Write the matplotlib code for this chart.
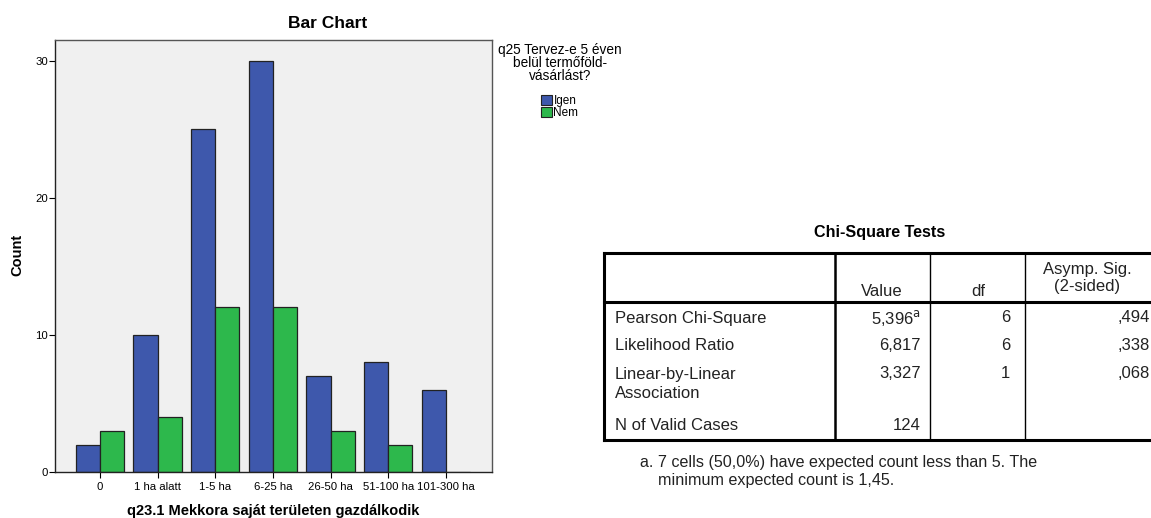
import matplotlib.pyplot as plt
import numpy as np

plt.rcParams['font.family'] = ['Liberation Sans', 'DejaVu Sans']

categories = ["0", "1 ha alatt", "1-5 ha", "6-25 ha", "26-50 ha", "51-100 ha", "101-300 ha"]
igen = [2, 10, 25, 30, 7, 8, 6]
nem = [3, 4, 12, 12, 3, 2, 0]

table_title = "Chi-Square Tests"
col_headers = ["", "Value", "df", "Asymp. Sig.\n(2-sided)"]
row_labels = ["Pearson Chi-Square", "Likelihood Ratio", "Linear-by-Linear\nAssociation", "N of Valid Cases"]
values = ["5,396$^{\\mathrm{a}}$", "6,817", "3,327", "124"]
dfs = ["6", "6", "1", ""]
sigs = [",494", ",338", ",068", ""]
footnote = "a. 7 cells (50,0%) have expected count less than 5. The\n    minimum expected count is 1,45."

W, H = 1151, 518
fig = plt.figure(figsize=(W / 100, H / 100), dpi=100)

# bar chart
ax = fig.add_axes([55 / W, (H - 472) / H, 437 / W, 432 / H])
ax.set_facecolor("#f0f0f0")
x = np.arange(len(categories))
w = 0.42
ax.bar(x - w / 2, igen, w, color="#3e58ac", edgecolor="#222222", linewidth=0.9, label="Igen")
ax.bar(x + w / 2, nem, w, color="#2db84c", edgecolor="#222222", linewidth=0.9, label="Nem")
ax.set_xlim(-0.78, 6.8)
ax.set_ylim(0, 31.5)
ax.set_yticks([0, 10, 20, 30])
ax.set_xticks(x)
ax.set_xticklabels(categories, fontsize=8.2)
ax.tick_params(axis="y", labelsize=8.2, length=4, width=0.8, pad=1)
ax.tick_params(axis="x", length=4, width=0.8)
for s in ax.spines.values():
    s.set_color("#555555")
    s.set_linewidth(1.0)
ax.spines["left"].set_color("#222222")
ax.spines["bottom"].set_color("#222222")
ax.set_xlabel("q23.1 Mekkora saját területen gazdálkodik", fontsize=10.5, fontweight="bold", labelpad=8)
fig.text(17 / W, 1 - 255 / H, "Count", fontsize=10.5, fontweight="bold", rotation=90,
         ha="center", va="center")
fig.text(328 / W, 1 - 24 / H, "Bar Chart", fontsize=12.5, fontweight="bold", ha="center", va="center")

leg = fig.legend(loc="upper left", bbox_to_anchor=(541 / W, 1 - 95 / H), frameon=False,
                 fontsize=8.5, handlelength=0.9, handleheight=0.9, handletextpad=0.15,
                 labelspacing=0.0, borderpad=0, borderaxespad=0)
for p in leg.get_patches():
    p.set_linewidth(0.8)
fig.text(560 / W, 1 - 63 / H, "q25 Tervez-e 5 éven\nbelül termőföld-\nvásárlást?",
         fontsize=9.8, ha="center", va="center", linespacing=0.9)

# table overlay in pixel coordinates
tx = fig.add_axes([0, 0, 1, 1])
tx.set_xlim(0, W)
tx.set_ylim(H, 0)
tx.axis("off")
tx.patch.set_alpha(0)

tx.text(880, 232, table_title, fontsize=11.6, fontweight="bold", ha="center", va="center")
left, right = 604, 1160
top, head_bot, bottom = 253, 302, 440
cols = [left, 835, 930, 1025, right]
tx.plot([left, right], [top, top], color="black", lw=2.2)
tx.plot([left, right], [bottom, bottom], color="black", lw=2.2)
tx.plot([left, right], [head_bot, head_bot], color="black", lw=2.2)
tx.plot([left, left], [top, bottom], color="black", lw=2.2)
tx.plot([cols[1], cols[1]], [top, bottom], color="black", lw=1.8)
for c in cols[2:4]:
    tx.plot([c, c], [top, bottom], color="black", lw=1.0)

fs = 12
tc = "#222222"
tx.text(882, 291, col_headers[1], fontsize=fs, ha="center", va="center", color=tc)
tx.text(978, 291, col_headers[2], fontsize=fs, ha="center", va="center", color=tc)
tx.text(1087, 278, col_headers[3], fontsize=fs, ha="center", va="center", color=tc, linespacing=1.1)
row_y = [318, 346, 373, 425]
for i, lab in enumerate(row_labels):
    ty = row_y[i] + (11 if "\n" in lab else 0)
    tx.text(615, ty, lab, fontsize=fs, ha="left", va="center", color=tc, linespacing=1.25)
    tx.text(921, row_y[i], values[i], fontsize=fs, ha="right", va="center", color=tc)
    tx.text(1010, row_y[i], dfs[i], fontsize=fs, ha="right", va="center", color=tc)
    tx.text(1150, row_y[i], sigs[i], fontsize=fs, ha="right", va="center", color=tc)

tx.text(640, 471, footnote, fontsize=11.6, ha="left", va="center", color=tc, linespacing=1.25)

fig.savefig("out.png", dpi=100)
